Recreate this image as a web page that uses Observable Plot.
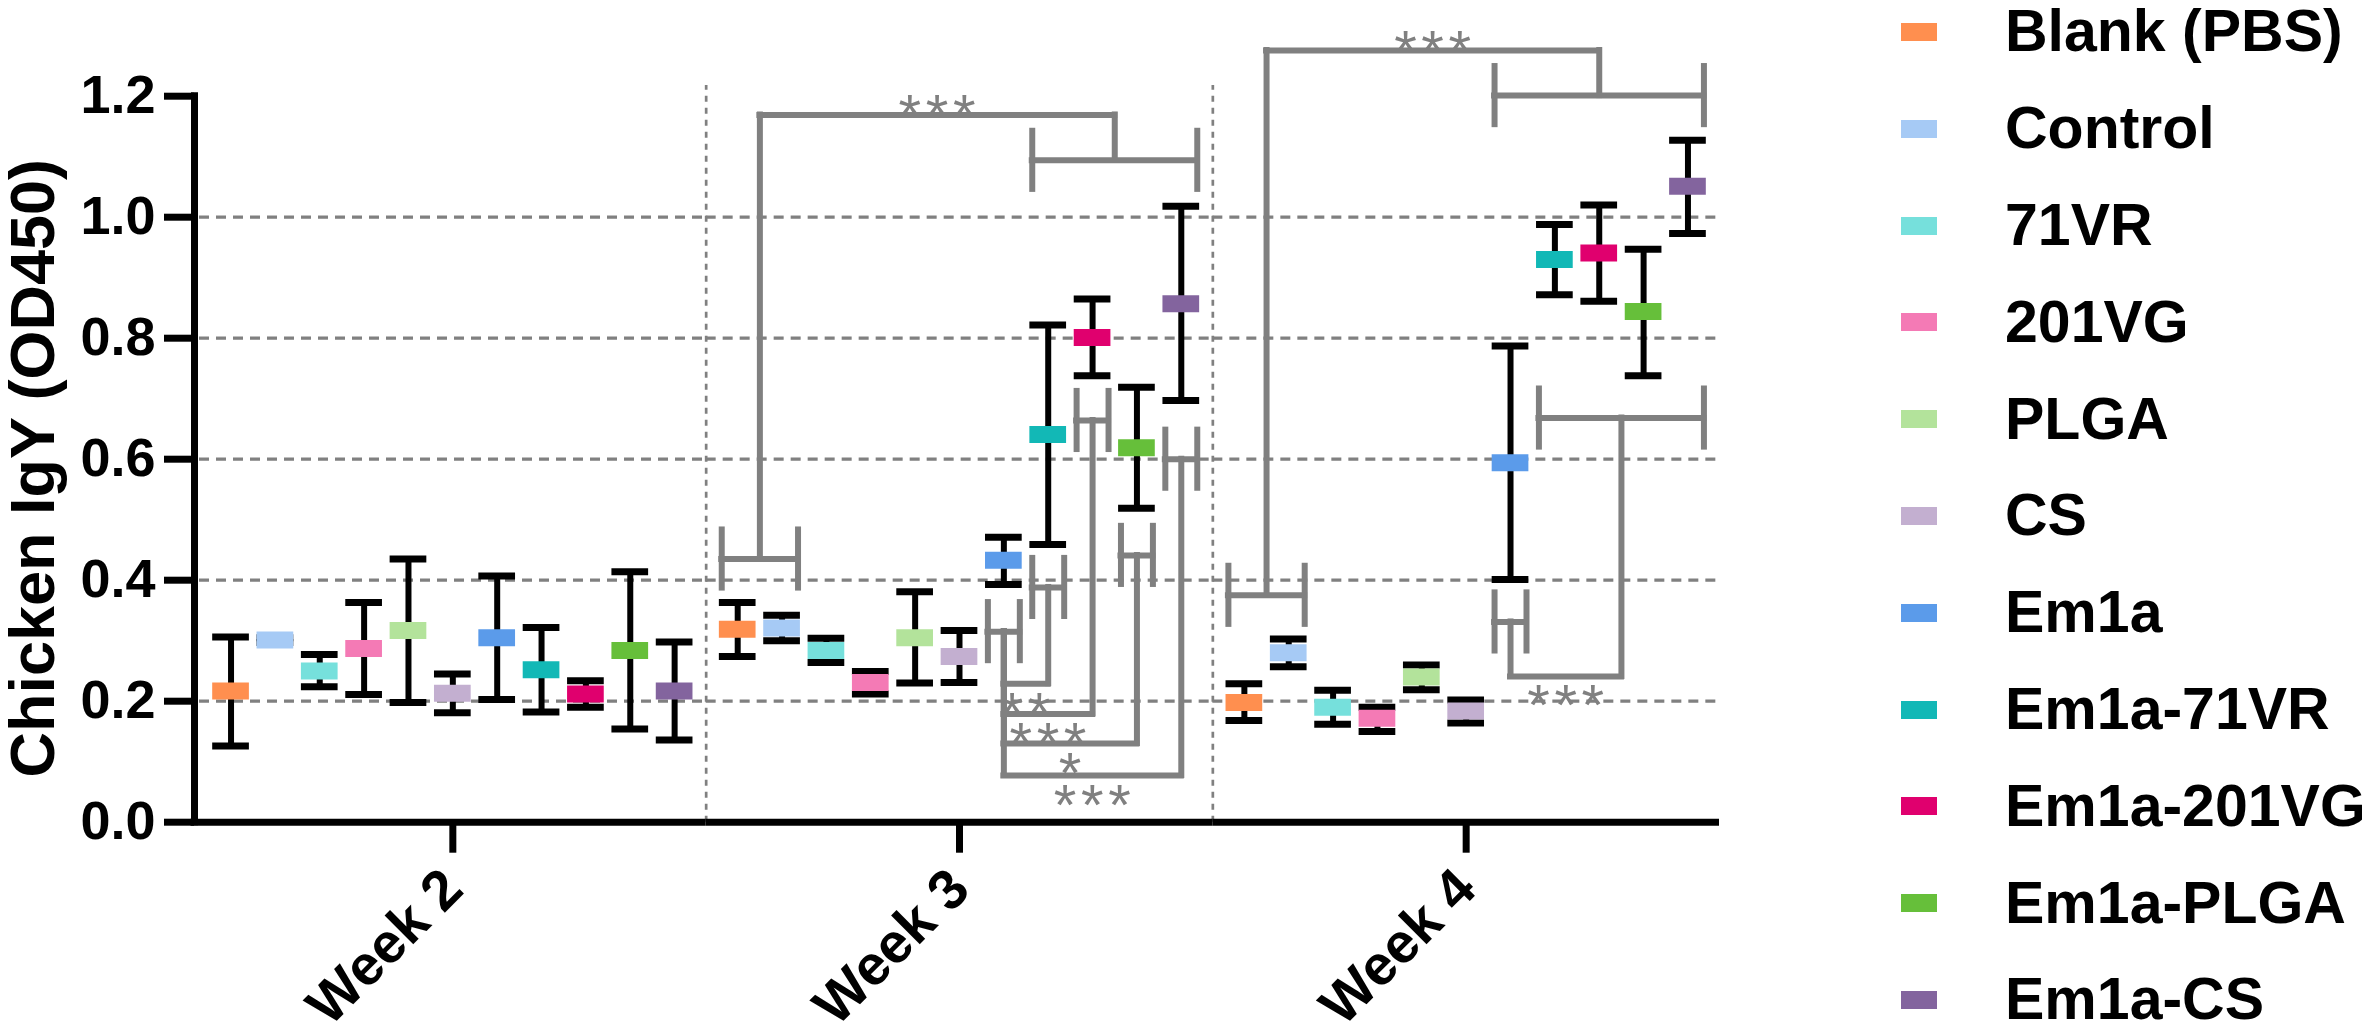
<!DOCTYPE html>
<html><head><meta charset="utf-8">
<script src="https://cdn.jsdelivr.net/npm/d3@7"></script>
<script src="https://cdn.jsdelivr.net/npm/@observablehq/plot@0.6"></script>
<style>
html,body{margin:0;padding:0;background:#fff;width:2362px;height:1033px;overflow:hidden;font-family:"Liberation Sans",Arial,sans-serif;}
#chart{position:absolute;left:0;top:0;}
#legend{position:absolute;left:0;top:0;}
.item{position:absolute;left:1901px;height:60px;display:flex;align-items:center;}
.sw{width:36px;height:18px;margin-right:68px;flex:none;}
.lab{font-weight:bold;font-size:59px;line-height:0.7;color:#000;white-space:nowrap;}
</style></head><body>
<div id="chart"></div><div id="legend"></div>
<script>
// ---------- data ----------
const weeks = ["Week 2", "Week 3", "Week 4"];
const groups = ["Blank (PBS)", "Control", "71VR", "201VG", "PLGA", "CS", "Em1a", "Em1a-71VR", "Em1a-201VG", "Em1a-PLGA", "Em1a-CS"];
const groupColors = ["#FF8F4F", "#A6CAF5", "#76E0DC", "#F47AB5", "#B3E39B", "#C3AFD0", "#5B9BEA", "#12B8B6", "#E0006E", "#66BF3A", "#83649E"];
const yTicks = [0, 0.2, 0.4, 0.6, 0.8, 1.0, 1.2];
const gridLevels = [0.2, 0.4, 0.6, 0.8, 1.0];

const week2Mean = [0.217, 0.301, 0.250, 0.287, 0.317, 0.213, 0.305, 0.252, 0.212, 0.284, 0.217];
const week2Low  = [0.126, 0.297, 0.224, 0.211, 0.198, 0.181, 0.203, 0.182, 0.190, 0.154, 0.136];
const week2High = [0.306, 0.305, 0.277, 0.363, 0.435, 0.245, 0.407, 0.322, 0.234, 0.414, 0.298];
const week3Mean = [0.319, 0.321, 0.284, 0.231, 0.305, 0.274, 0.433, 0.641, 0.801, 0.619, 0.857];
const week3Low  = [0.274, 0.300, 0.264, 0.212, 0.230, 0.231, 0.393, 0.459, 0.738, 0.519, 0.697];
const week3High = [0.363, 0.342, 0.304, 0.249, 0.381, 0.317, 0.471, 0.822, 0.865, 0.719, 1.018];
const week4Mean = [0.198, 0.280, 0.190, 0.172, 0.240, 0.184, 0.594, 0.930, 0.941, 0.844, 1.051];
const week4Low  = [0.168, 0.257, 0.162, 0.150, 0.219, 0.164, 0.401, 0.872, 0.861, 0.738, 0.973];
const week4High = [0.229, 0.303, 0.218, 0.190, 0.260, 0.202, 0.787, 0.988, 1.020, 0.947, 1.127];

// group brackets: week, first group, last group, level
const hBrackets = [
  ["Week 3", "Blank (PBS)", "Control", 0.435],
  ["Week 3", "Em1a-71VR", "Em1a-CS", 1.094],
  ["Week 3", "Em1a", "Em1a", 0.315],
  ["Week 3", "Em1a-71VR", "Em1a-71VR", 0.388],
  ["Week 3", "Em1a-201VG", "Em1a-201VG", 0.664],
  ["Week 3", "Em1a-PLGA", "Em1a-PLGA", 0.441],
  ["Week 3", "Em1a-CS", "Em1a-CS", 0.600],
  ["Week 4", "Blank (PBS)", "Control", 0.375],
  ["Week 4", "Em1a", "Em1a-CS", 1.201],
  ["Week 4", "Em1a", "Em1a", 0.331],
  ["Week 4", "Em1a-71VR", "Em1a-CS", 0.668]
];
// comparisons: week, left bracket, right bracket, joining level, label, label side
const comparisons = [
  ["Week 3", 0, 1, 1.169, "***", "above"],
  ["Week 3", 2, 3, 0.229, "**", "below"],
  ["Week 3", 2, 4, 0.179, "***", "below"],
  ["Week 3", 2, 5, 0.130, "*", "below"],
  ["Week 3", 2, 6, 0.077, "***", "below"],
  ["Week 4", 7, 8, 1.2755, "***", "above"],
  ["Week 4", 9, 10, 0.241, "***", "below"]
];

// ---------- layout ----------
const W = 1890, H = 1033, mL = 199, mR = W - 1719, mT = 85, mB = H - 821.7;
const pxPerUnit = 605;
const yTop = (H - mB - mT) / pxPerUnit;
const padIn = 0.28, padOut = 0.351;
const facetW = (W - mL - mR) / weeks.length;
const step = facetW / (groups.length - padIn + 2 * padOut);
const bw = step * (1 - padIn);
const edge = padOut * step + bw / 2;
const axisShift = 194 - mL;
const capH = 0.053;
const gray = "#808080";
const markerW = 36.7;
const inset = -(markerW - bw) / 2;
const FONT = '"Liberation Sans", Arial, sans-serif';

const means = [week2Mean, week3Mean, week4Mean];
const lows = [week2Low, week3Low, week4Low];
const highs = [week2High, week3High, week4High];
const rows = [];
weeks.forEach((w, wi) => groups.forEach((g, gi) => rows.push({week: w, group: g, mean: means[wi][gi], low: lows[wi][gi], high: highs[wi][gi]})));

const marks = [];
// grid
marks.push(Plot.ruleY(gridLevels, {stroke: gray, strokeWidth: 3.3, strokeDasharray: "10,7"}));
// dividers between weeks
marks.push(Plot.ruleX(weeks.slice(1).map(w => ({week: w})), {fx: "week", x: () => groups[0], dx: -edge, y1: 0, y2: yTop, stroke: gray, strokeWidth: 2.7, strokeDasharray: "6,6"}));

// group brackets
const hRows = hBrackets.map(([week, a, b, level]) => ({week, a, b, level}));
marks.push(Plot.ruleY(hRows, {fx: "week", x1: "a", x2: "b", y: "level", stroke: gray, strokeWidth: 6, strokeLinecap: "square"}));
marks.push(Plot.ruleX(hRows, {fx: "week", x: "a", dx: -bw / 2, y1: d => d.level - capH, y2: d => d.level + capH, stroke: gray, strokeWidth: 6}));
marks.push(Plot.ruleX(hRows, {fx: "week", x: "b", dx: bw / 2, y1: d => d.level - capH, y2: d => d.level + capH, stroke: gray, strokeWidth: 6}));

// comparison connectors
const centerOf = b => (groups.indexOf(b[1]) + groups.indexOf(b[2])) / 2;
const at = c => { const i = Math.floor(c); return {col: groups[i], off: (c - i) * step}; };
comparisons.forEach(([week, L, R, join, label, side]) => {
  const bL = hBrackets[L], bR = hBrackets[R];
  const cL = centerOf(bL), cR = centerOf(bR);
  const aL = at(cL), aR = at(cR), aM = at((cL + cR) / 2);
  const line = {stroke: gray, strokeWidth: 6, strokeLinecap: "square"};
  marks.push(Plot.ruleX([{week, y1: bL[3], y2: join}], {fx: "week", x: () => aL.col, dx: aL.off, y1: "y1", y2: "y2", ...line}));
  marks.push(Plot.ruleX([{week, y1: bR[3], y2: join}], {fx: "week", x: () => aR.col, dx: aR.off, y1: "y1", y2: "y2", ...line}));
  marks.push(Plot.ruleY([{week, x1: aL.col, x2: aR.col, y: join}], {fx: "week", x1: "x1", x2: "x2", y: "y", insetLeft: bw / 2 + aL.off, insetRight: bw / 2 - aR.off, ...line}));
  marks.push(Plot.text([{week, y: join, label}], {fx: "week", x: () => aM.col, dx: aM.off + 2, y: "y", text: "label", dy: side === "above" ? 20 : 49, lineAnchor: "bottom", textAnchor: "middle", fill: gray, fontSize: 58, fontWeight: "normal", fontFamily: FONT}));
});

// error bars and means
marks.push(Plot.ruleX(rows, {fx: "week", x: "group", y1: "low", y2: "high", stroke: "black", strokeWidth: 6}));
marks.push(Plot.tickY(rows, {fx: "week", x: "group", y: "low", stroke: "black", strokeWidth: 7, inset}));
marks.push(Plot.tickY(rows, {fx: "week", x: "group", y: "high", stroke: "black", strokeWidth: 7, inset}));
marks.push(Plot.tickY(rows, {fx: "week", x: "group", y: "mean", stroke: "group", strokeWidth: 17, inset}));

// axes
marks.push(Plot.ruleY([{week: weeks[0]}], {fx: "week", y: () => 0, insetLeft: axisShift - 3.5, stroke: "black", strokeWidth: 7}));
marks.push(Plot.ruleY(weeks.slice(1).map(w => ({week: w})), {fx: "week", y: () => 0, stroke: "black", strokeWidth: 7}));
marks.push(Plot.ruleX([{week: weeks[0]}], {fx: "week", x: () => groups[0], dx: -edge + axisShift, y1: 0, y2: 1.2, stroke: "black", strokeWidth: 7, strokeLinecap: "square"}));
marks.push(Plot.axisY(yTicks, {anchor: "left", tickSize: 30, tickPadding: 9, strokeWidth: 7, dx: axisShift, fontSize: 54, fontWeight: "bold", fontFamily: FONT, fill: "black", tickFormat: d3.format(".1f"), label: null}));
marks.push(Plot.axisFx({anchor: "bottom", tickSize: 31, tickPadding: 26, tickRotate: -45, strokeWidth: 7, fontSize: 56, fontWeight: "bold", fontFamily: FONT, fill: "black", label: null}));
marks.push(Plot.text([{week: weeks[0]}], {fx: "week", frameAnchor: "left", y: () => 0.585, text: () => "Chicken IgY (OD450)", rotate: -90, textAnchor: "middle", lineAnchor: "bottom", dx: 53 - mL, fontSize: 63, fontWeight: "bold", fontFamily: FONT, fill: "black"}));

const chart = Plot.plot({
  width: W, height: H,
  marginLeft: mL, marginRight: mR, marginTop: mT, marginBottom: mB,
  style: {fontFamily: FONT, fontWeight: "bold", background: "transparent", overflow: "visible"},
  fx: {domain: weeks, padding: 0, round: false},
  x: {type: "band", domain: groups, paddingInner: padIn, paddingOuter: padOut, round: false, axis: null},
  y: {domain: [0, yTop]},
  color: {domain: groups, range: groupColors},
  marks
});
d3.select(chart).selectAll("text").filter(function () { return /^\*+$/.test(this.textContent); }).style("letter-spacing", "4.6px");
document.getElementById("chart").appendChild(chart);

// legend
const legend = document.getElementById("legend");
groups.forEach((g, i) => {
  const item = document.createElement("div");
  item.className = "item";
  item.style.top = (32 + i * 96.8 - 30) + "px";
  const sw = document.createElement("div");
  sw.className = "sw";
  sw.style.background = groupColors[i];
  const lab = document.createElement("div");
  lab.className = "lab";
  lab.textContent = g;
  item.appendChild(sw); item.appendChild(lab);
  legend.appendChild(item);
});
</script></body></html>
